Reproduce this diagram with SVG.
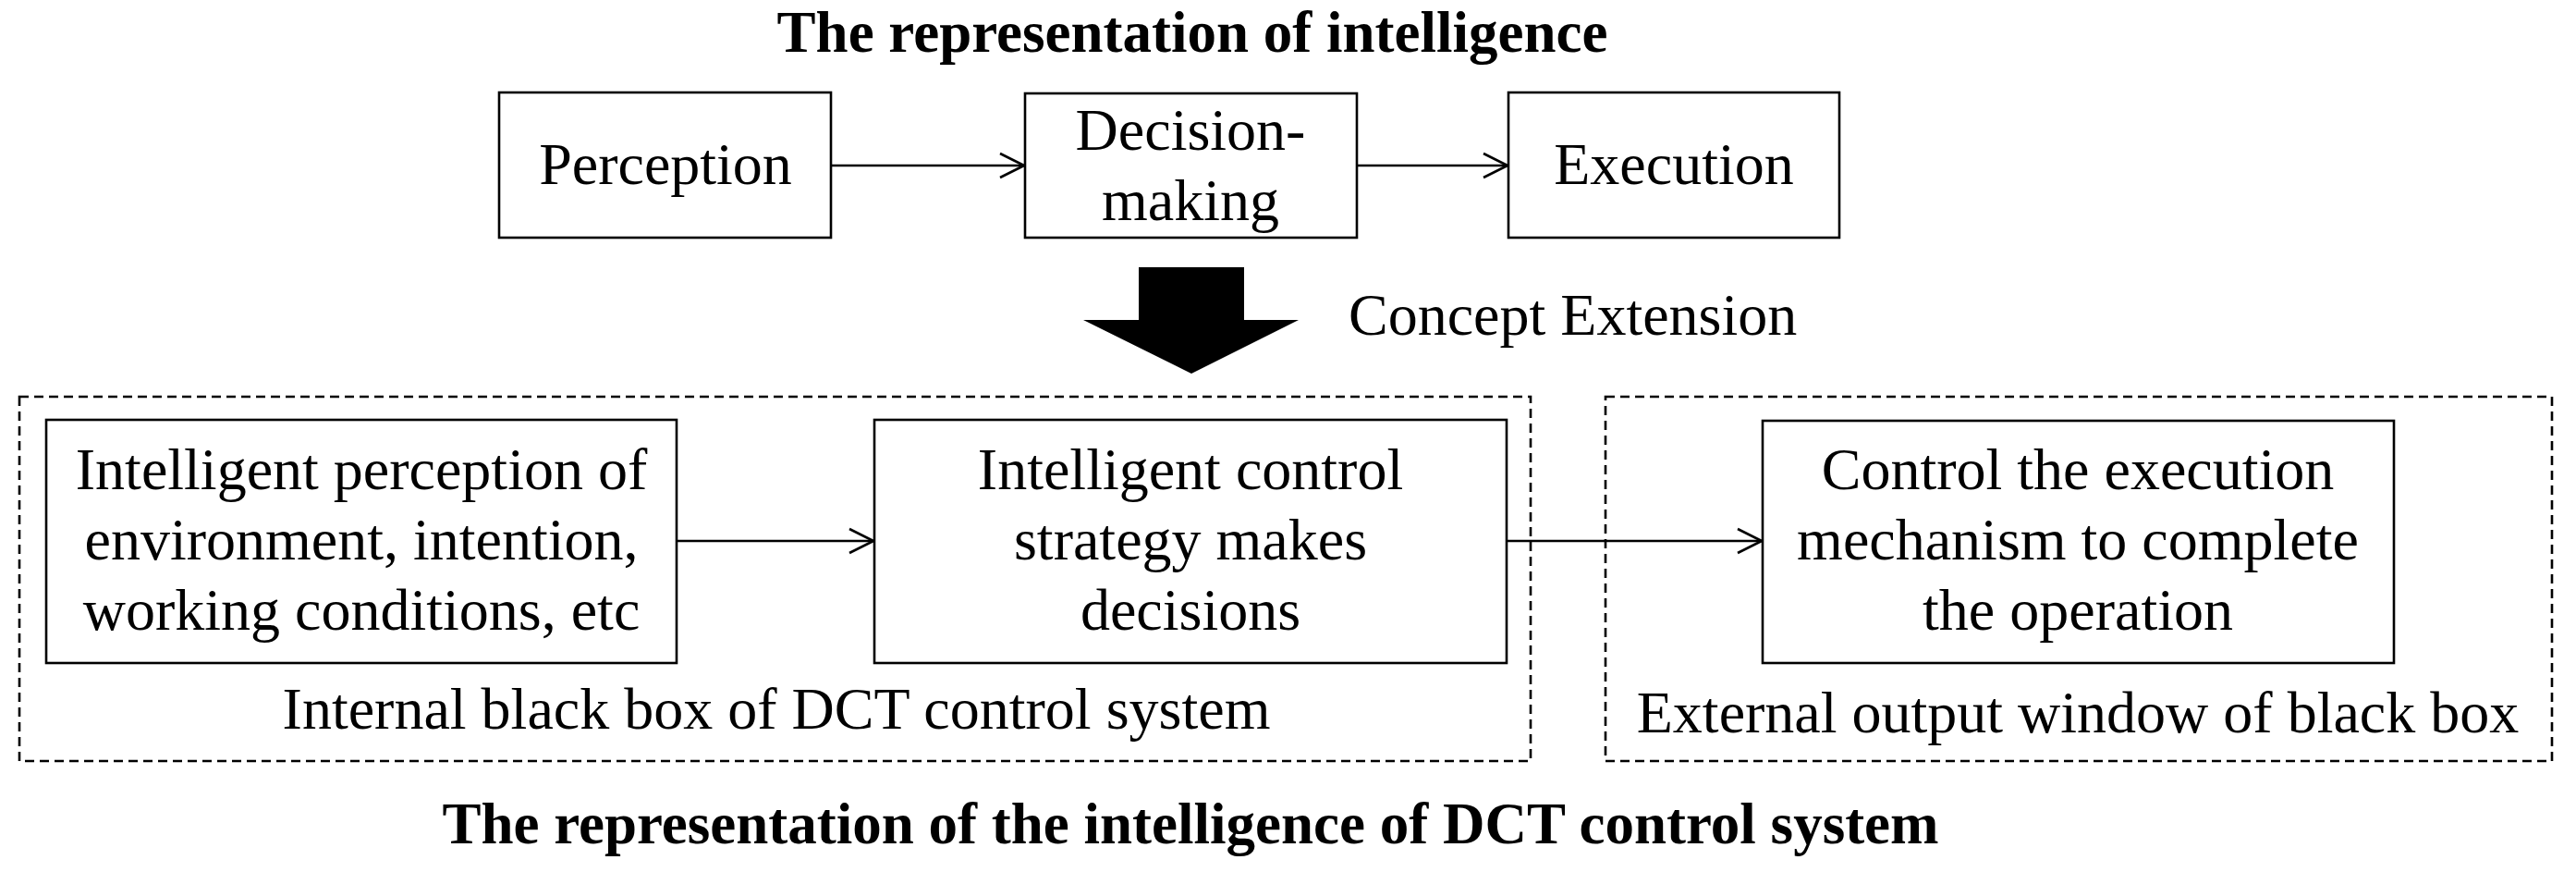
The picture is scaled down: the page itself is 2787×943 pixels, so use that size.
<svg xmlns="http://www.w3.org/2000/svg" width="2787" height="943" viewBox="0 0 2787 943">
<defs>
<style>
text{font-family:"Liberation Serif","Times New Roman",serif;fill:#000;}
.title{font-size:63px;font-weight:bold;text-anchor:middle;}
.lbl{font-size:64px;text-anchor:middle;}
.node{fill:#fff;stroke:#000;stroke-width:2.6;}
.dash{fill:none;stroke:#000;stroke-width:2.6;stroke-dasharray:10 6;}
.conn{fill:none;stroke:#000;stroke-width:2.6;marker-end:url(#arr);}
</style>
<marker id="arr" viewBox="-30 -16 32 32" refX="0" refY="0" markerWidth="32" markerHeight="32" markerUnits="userSpaceOnUse" orient="auto">
<path d="M-26,-13 L0,0 L-26,13" fill="none" stroke="#000" stroke-width="2.6"/>
</marker>
</defs>
<rect width="2787" height="943" fill="#fff"/>

<text class="title" x="1290" y="56">The representation of intelligence</text>

<g id="perception">
<rect class="node" x="540" y="100" width="359" height="157"/>
<text class="lbl" x="720" y="199">Perception</text>
</g>
<g id="decision">
<rect class="node" x="1109" y="101" width="359" height="156"/>
<text class="lbl" x="1288" y="162">Decision-</text>
<text class="lbl" x="1288" y="238">making</text>
</g>
<g id="execution">
<rect class="node" x="1632" y="100" width="358" height="157"/>
<text class="lbl" x="1811" y="199">Execution</text>
</g>

<g id="concept-extension">
<polygon points="1232,289 1346,289 1346,346 1405,346 1289,404 1172,346 1232,346" fill="#000"/>
<text class="lbl" x="1459" y="362" style="text-anchor:start">Concept Extension</text>
</g>

<g id="internal-black-box">
<rect class="dash" x="21" y="429" width="1635" height="394"/>
<text class="lbl" x="840" y="788">Internal black box of DCT control system</text>
</g>
<g id="external-output-window">
<rect class="dash" x="1737" y="429" width="1024" height="394"/>
<text class="lbl" x="2248" y="792">External output window of black box</text>
</g>

<g id="intelligent-perception">
<rect class="node" x="50" y="454" width="682" height="263"/>
<text class="lbl" x="391" y="529">Intelligent perception of</text>
<text class="lbl" x="391" y="605">environment, intention,</text>
<text class="lbl" x="391" y="681">working conditions, etc</text>
</g>
<g id="intelligent-control">
<rect class="node" x="946" y="454" width="684" height="263"/>
<text class="lbl" x="1288" y="529">Intelligent control</text>
<text class="lbl" x="1288" y="605">strategy makes</text>
<text class="lbl" x="1288" y="681">decisions</text>
</g>
<g id="control-execution">
<rect class="node" x="1907" y="455" width="683" height="262"/>
<text class="lbl" x="2248" y="529">Control the execution</text>
<text class="lbl" x="2248" y="605">mechanism to complete</text>
<text class="lbl" x="2248" y="681">the operation</text>
</g>

<g id="connectors">
<line class="conn" x1="899" y1="179" x2="1108" y2="179"/>
<line class="conn" x1="1468" y1="179" x2="1631" y2="179"/>
<line class="conn" x1="732" y1="585" x2="945" y2="585"/>
<line class="conn" x1="1630" y1="585" x2="1906" y2="585"/>
</g>

<text class="title" x="1288" y="912">The representation of the intelligence of DCT control system</text>
</svg>
